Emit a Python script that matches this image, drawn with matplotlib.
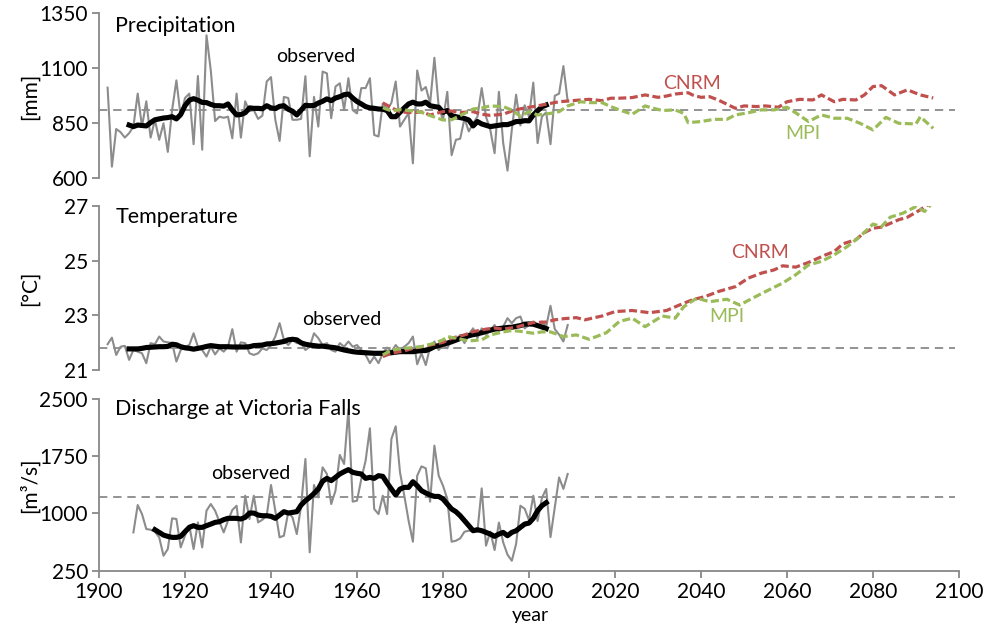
import matplotlib
matplotlib.use('Agg')
import matplotlib.pyplot as plt

plt.rcParams['font.family'] = ['Lato', 'DejaVu Sans']

# ---- precipitation [mm] ----
prec_years = list(range(1902, 2010))
prec_obs = [1012, 653, 824, 810, 785, 805, 835, 985, 835, 950,
            785, 865, 775, 850, 720, 910, 1045, 880, 965, 985,
            755, 1065, 730, 1250, 1090, 860, 880, 875, 880, 782,
            985, 785, 950, 905, 910, 870, 885, 1040, 1060, 866,
            770, 970, 965, 866, 866, 870, 1064, 700, 970, 835,
            1085, 1077, 873, 1017, 1032, 910, 1055, 910, 895, 1010,
            1010, 1055, 797, 790, 940, 910, 943, 1040, 835, 866,
            896, 668, 1090, 999, 1015, 940, 1148, 925, 865, 993,
            705, 775, 780, 872, 813, 850, 880, 1010, 880, 820,
            714, 993, 760, 635, 820, 980, 840, 932, 880, 1035,
            760, 880, 900, 755, 975, 985, 1110, 950]
prec_ma_years = list(range(1907, 2005))
prec_ma = [842, 835, 842, 840, 838, 853, 866, 870, 874, 876,
           880, 870, 890, 930, 955, 962, 955, 945, 944, 936,
           930, 930, 928, 938, 910, 888, 890, 898, 920, 918,
           918, 916, 930, 920, 917, 927, 930, 914, 905, 888,
           910, 932, 930, 931, 942, 950, 961, 953, 965, 971,
           980, 983, 965, 949, 938, 926, 920, 918, 915, 914,
           908, 880, 880, 900, 920, 938, 946, 938, 938, 946,
           930, 926, 923, 900, 908, 885, 880, 876, 872, 865,
           838, 858, 847, 841, 835, 838, 841, 844, 844, 850,
           858, 858, 862, 861, 888, 907, 925, 933]
prec_cnrm_years = [1966, 1968, 1970, 1973, 1975, 1977, 1980, 1982, 1984, 1987,
                   1989, 1991, 1994, 1996, 1998, 2001, 2003, 2007, 2012, 2014,
                   2017, 2019, 2021, 2024, 2027, 2030, 2032, 2034, 2037, 2038,
                   2040, 2042, 2044, 2048, 2050, 2053, 2055, 2058, 2060, 2063,
                   2066, 2068, 2071, 2073, 2076, 2078, 2080, 2082, 2085, 2088,
                   2091, 2094]
prec_cnrm = [943, 921, 902, 898, 902, 888, 903, 906, 899, 903,
             891, 886, 891, 906, 916, 926, 933, 948, 956, 959,
             953, 964, 964, 967, 979, 968, 974, 983, 989, 979,
             968, 971, 956, 918, 929, 926, 929, 923, 948, 959,
             956, 979, 948, 959, 956, 979, 1017, 1021, 979, 1002,
             979, 965]
prec_mpi_years = [1966, 1968, 1970, 1973, 1975, 1977, 1980, 1982, 1984, 1987,
                  1989, 1991, 1994, 1996, 1998, 2000, 2002, 2005, 2007, 2009,
                  2012, 2014, 2017, 2019, 2021, 2024, 2027, 2029, 2031, 2034,
                  2036, 2037, 2040, 2043, 2046, 2048, 2051, 2054, 2057, 2060,
                  2062, 2065, 2068, 2071, 2074, 2077, 2080, 2083, 2086, 2090,
                  2091, 2094]
prec_mpi = [921, 906, 912, 906, 900, 885, 865, 866, 885, 915,
            920, 929, 926, 910, 882, 903, 888, 895, 903, 929,
            948, 944, 944, 926, 911, 891, 929, 918, 908, 911,
            895, 853, 858, 868, 868, 888, 898, 911, 911, 923,
            898, 858, 888, 873, 873, 850, 820, 877, 850, 847,
            880, 827]
prec_ref = 910

# ---- temperature [°C] ----
temp_years = list(range(1902, 2010))
temp_obs = [21.95, 22.19, 21.56, 21.86, 21.89, 21.38, 21.74, 21.68, 21.62, 21.26,
            21.99, 21.95, 22.23, 22.05, 22.02, 21.99, 21.32, 21.74, 21.86, 21.92,
            22.35, 21.86, 21.74, 21.50, 21.86, 21.58, 21.80, 21.68, 21.86, 22.50,
            21.68, 22.02, 21.99, 21.62, 21.56, 21.62, 21.80, 21.74, 21.92, 22.23,
            22.72, 22.11, 21.92, 22.11, 21.99, 21.99, 21.74, 21.86, 22.35, 22.17,
            21.92, 21.99, 21.74, 21.68, 21.99, 21.86, 22.05, 21.86, 21.92, 21.74,
            21.56, 21.26, 21.50, 21.26, 21.62, 21.83, 21.68, 21.92, 21.74, 21.86,
            21.99, 22.23, 21.22, 21.62, 21.19, 21.86, 22.05, 21.74, 21.92, 21.80,
            22.17, 22.11, 22.29, 21.99, 22.31, 22.53, 22.17, 22.53, 22.29, 22.47,
            22.65, 22.41, 22.59, 22.90, 22.72, 22.90, 22.96, 22.53, 22.65, 22.78,
            22.59, 22.78, 22.60, 23.35, 22.50, 22.30, 22.05, 22.65]
temp_ma_years = list(range(1907, 2005))
temp_ma = [21.78, 21.78, 21.78, 21.80, 21.83, 21.84, 21.85, 21.86, 21.86, 21.87,
           21.95, 21.93, 21.86, 21.82, 21.80, 21.77, 21.80, 21.83, 21.87, 21.90,
           21.88, 21.86, 21.86, 21.86, 21.85, 21.85, 21.85, 21.85, 21.86, 21.90,
           21.91, 21.92, 21.96, 21.97, 21.99, 22.02, 22.05, 22.11, 22.13, 22.11,
           22.00, 21.95, 21.92, 21.90, 21.88, 21.88, 21.86, 21.84, 21.82, 21.78,
           21.74, 21.71, 21.68, 21.66, 21.65, 21.64, 21.63, 21.62, 21.62, 21.62,
           21.63, 21.64, 21.66, 21.68, 21.68, 21.68, 21.68, 21.70, 21.72, 21.72,
           21.78, 21.86, 21.90, 21.95, 21.99, 22.04, 22.10, 22.16, 22.21, 22.26,
           22.30, 22.33, 22.37, 22.42, 22.46, 22.50, 22.52, 22.54, 22.56, 22.57,
           22.60, 22.63, 22.68, 22.69, 22.68, 22.63, 22.58, 22.52]
temp_cnrm_years = [1966, 1968, 1971, 1973, 1975, 1978, 1980, 1982, 1985, 1987,
                   1990, 1992, 1994, 1997, 1999, 2001, 2004, 2006, 2008, 2011,
                   2013, 2017, 2020, 2024, 2028, 2032, 2035, 2038, 2041, 2044,
                   2048, 2051, 2054, 2057, 2059, 2062, 2065, 2069, 2071, 2073,
                   2076, 2078, 2080, 2082, 2086, 2088, 2091, 2095]
temp_cnrm = [21.50, 21.62, 21.71, 21.80, 21.86, 21.95, 22.02, 22.17, 22.29, 22.41,
             22.50, 22.54, 22.50, 22.57, 22.66, 22.74, 22.76, 22.84, 22.88, 22.92,
             22.84, 22.98, 23.14, 23.18, 23.10, 23.18, 23.38, 23.57, 23.69, 23.87,
             24.05, 24.36, 24.54, 24.66, 24.81, 24.76, 24.93, 25.21, 25.33, 25.61,
             25.76, 26.02, 26.18, 26.22, 26.49, 26.58, 26.85, 27.28]
temp_mpi_years = [1966, 1968, 1971, 1973, 1975, 1978, 1980, 1981, 1984, 1986,
                  1989, 1991, 1994, 1996, 1998, 2001, 2003, 2005, 2008, 2011,
                  2014, 2018, 2021, 2024, 2027, 2031, 2034, 2036, 2039, 2042,
                  2046, 2049, 2052, 2055, 2059, 2062, 2065, 2068, 2071, 2074,
                  2077, 2080, 2082, 2084, 2087, 2090, 2092, 2095]
temp_mpi = [21.56, 21.74, 21.80, 21.83, 21.86, 21.99, 22.11, 22.23, 22.14, 22.07,
            22.11, 22.29, 22.40, 22.45, 22.42, 22.35, 22.40, 22.40, 22.23, 22.29,
            22.13, 22.37, 22.78, 22.90, 22.59, 22.98, 22.90, 23.32, 23.63, 23.50,
            23.59, 23.38, 23.63, 23.87, 24.18, 24.48, 24.84, 24.97, 25.21, 25.51,
            25.88, 26.33, 26.24, 26.58, 26.73, 26.97, 26.79, 27.31]
temp_ref = 21.82

# ---- discharge at Victoria Falls [m3/s] ----
dis_years = list(range(1908, 2010))
dis_obs = [751, 1109, 991, 795, 786, 760, 686, 446, 533, 935,
           926, 555, 708, 839, 533, 882, 555, 1035, 1122, 1035,
           891, 751, 904, 1044, 1100, 620, 1231, 926, 1231, 882,
           917, 969, 1371, 1035, 686, 708, 1013, 948, 729, 1100,
           1711, 490, 1371, 1209, 1602, 1515, 1122, 1297, 1764, 1646,
           2360, 1153, 1166, 1449, 1689, 2113, 1057, 991, 1231, 991,
           1973, 2139, 1537, 1231, 904, 629, 1493, 1615, 1589, 1153,
           1886, 1493, 1362, 1188, 629, 642, 673, 760, 773, 773,
           760, 1327, 577, 760, 520, 880, 620, 460, 380, 600,
           1100, 1060, 910, 1231, 900, 1200, 1320, 690, 1080, 1470,
           1320, 1515]
dis_ma_years = list(range(1913, 2005))
dis_ma = [786, 751, 716, 699, 686, 686, 699, 760, 817, 839,
          817, 817, 839, 860, 882, 891, 917, 935, 935, 935,
          926, 948, 1004, 1004, 978, 969, 969, 961, 935, 978,
          1022, 1004, 1013, 1022, 1109, 1166, 1209, 1260, 1320, 1420,
          1458, 1428, 1471, 1515, 1545, 1572, 1537, 1524, 1515, 1458,
          1471, 1458, 1493, 1484, 1397, 1318, 1240, 1318, 1340, 1340,
          1414, 1362, 1297, 1266, 1240, 1222, 1222, 1188, 1122, 1057,
          1022, 969, 904, 839, 773, 786, 773, 751, 729, 699,
          729, 751, 708, 751, 773, 817, 860, 873, 935, 1035,
          1100, 1140]
dis_ref = 1210

GRAY = '#8c8c8c'
RED = '#c0504d'
GREEN = '#9bbb59'
AXC = '#888888'

fig = plt.figure(figsize=(9.88, 6.23), dpi=100)
W, H = 988.0, 623.0


def box(top, bottom, left=99, right=959):
    return [left / W, 1 - bottom / H, (right - left) / W, (bottom - top) / H]


def style(ax, ylim, yticks, bottom=False):
    ax.set_xlim(1900, 2100)
    ax.set_ylim(*ylim)
    ax.set_yticks(yticks)
    ax.patch.set_alpha(0)
    for s in ['top', 'right']:
        ax.spines[s].set_visible(False)
    ax.spines['left'].set_color(AXC)
    ax.spines['left'].set_linewidth(1.3)
    ax.tick_params(axis='y', direction='out', length=5, width=1.3,
                   color=AXC, labelsize=15, pad=3)
    if bottom:
        ax.spines['bottom'].set_color(AXC)
        ax.spines['bottom'].set_linewidth(1.3)
        ax.set_xticks(range(1900, 2101, 20))
        ax.tick_params(axis='x', direction='out', length=5, width=1.3,
                       color=AXC, labelsize=15, pad=3)
    else:
        ax.spines['bottom'].set_visible(False)
        ax.set_xticks([])


def draw(ax, ref, years, obs, ma_years, ma, proj=None):
    ax.hlines(ref, 1900, 2099, colors='#808080', linestyles=(0, (5, 3.5)), lw=1.2, zorder=1)
    ax.plot(years, obs, color=GRAY, lw=1.5, zorder=2)
    ax.plot(ma_years, ma, color='black', lw=3.7, zorder=3, solid_joinstyle='round')
    if proj:
        for yrs, vals, c in proj:
            ax.plot(yrs, vals, color=c, lw=2.3, dashes=(2.5, 1.1), zorder=4)


ax1 = fig.add_axes(box(13.3, 178.3))
style(ax1, (600, 1350), [600, 850, 1100, 1350])
draw(ax1, prec_ref, prec_years, prec_obs, prec_ma_years, prec_ma,
     [(prec_cnrm_years, prec_cnrm, RED), (prec_mpi_years, prec_mpi, GREEN)])
ax1.text(0.019, 0.887, 'Precipitation', transform=ax1.transAxes, fontsize=15.5, va='baseline')
ax1.text(1950.5, 1153, 'observed', fontsize=14, ha='center', va='center')
ax1.text(2038, 1033, 'CNRM', fontsize=14, ha='center', va='center', color=RED)
ax1.text(2063.7, 805, 'MPI', fontsize=14, ha='center', va='center', color=GREEN)

ax2 = fig.add_axes(box(205.7, 370.3))
style(ax2, (21, 27), [21, 23, 25, 27])
draw(ax2, temp_ref, temp_years, temp_obs, temp_ma_years, temp_ma,
     [(temp_cnrm_years, temp_cnrm, RED), (temp_mpi_years, temp_mpi, GREEN)])
ax2.text(0.019, 0.895, 'Temperature', transform=ax2.transAxes, fontsize=15.5, va='baseline')
ax2.text(1956.5, 22.84, 'observed', fontsize=14, ha='center', va='center')
ax2.text(2053.7, 25.28, 'CNRM', fontsize=14, ha='center', va='center', color=RED)
ax2.text(2046, 22.95, 'MPI', fontsize=14, ha='center', va='center', color=GREEN)

ax3 = fig.add_axes(box(398.7, 570.7))
style(ax3, (250, 2500), [250, 1000, 1750, 2500], bottom=True)
draw(ax3, dis_ref, dis_years, dis_obs, dis_ma_years, dis_ma)
ax3.text(0.019, 0.905, 'Discharge at Victoria Falls', transform=ax3.transAxes,
         fontsize=15.5, va='baseline')
ax3.text(1935.3, 1524, 'observed', fontsize=14, ha='center', va='center')

fig.text(30 / W, 1 - 96 / H, '[mm]', rotation=90, ha='center', va='center', fontsize=15)
fig.text(30 / W, 1 - 288 / H, '[°C]', rotation=90, ha='center', va='center', fontsize=15)
fig.text(30 / W, 1 - 485 / H, '[m³/s]', rotation=90, ha='center', va='center', fontsize=15)
fig.text(530 / W, 1 - 615 / H, 'year', ha='center', va='center', fontsize=14)

fig.savefig('out.png', dpi=100)
